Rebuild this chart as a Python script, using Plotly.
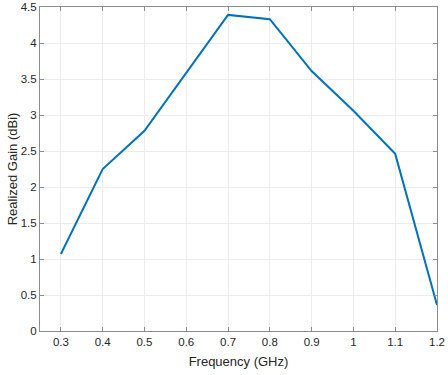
import plotly.graph_objects as go

freq = [0.3, 0.4, 0.5, 0.6, 0.7, 0.8, 0.9, 1.0, 1.1, 1.2]
gain = [1.07, 2.25, 2.78, 3.59, 4.39, 4.33, 3.61, 3.06, 2.46, 0.36]
x_ticks = [0.3, 0.4, 0.5, 0.6, 0.7, 0.8, 0.9, 1.0, 1.1, 1.2]
x_labels = ["0.3", "0.4", "0.5", "0.6", "0.7", "0.8", "0.9", "1", "1.1", "1.2"]
y_ticks = [0, 0.5, 1, 1.5, 2, 2.5, 3, 3.5, 4, 4.5]
y_labels = ["0", "0.5", "1", "1.5", "2", "2.5", "3", "3.5", "4", "4.5"]

fig = go.Figure()
fig.add_trace(go.Scatter(x=freq, y=gain, mode="lines",
                         line=dict(color="#0072BD", width=2)))

axis_common = dict(
    showline=True, linecolor="#8c8c8c", linewidth=1, mirror="ticks",
    ticks="inside", ticklen=4, tickcolor="#8c8c8c", tickwidth=1,
    showgrid=True, gridcolor="#ececec", gridwidth=1, zeroline=False,
    automargin=False,
    tickfont=dict(family="Liberation Sans, Arial", size=11.5, color="#262626"),
)

fig.update_layout(
    width=448, height=375,
    margin=dict(l=40, r=11, t=7, b=44),
    paper_bgcolor="white", plot_bgcolor="white",
    showlegend=False,
    xaxis=dict(range=[0.25, 1.2], tickvals=x_ticks, ticktext=x_labels,
               title=dict(text="Frequency (GHz)", standoff=10,
                          font=dict(family="Liberation Sans, Arial", size=13, color="#262626")),
               **axis_common),
    yaxis=dict(range=[0, 4.5], tickvals=y_ticks, ticktext=y_labels,
               title=dict(text="Realized Gain (dBi)", standoff=0,
                          font=dict(family="Liberation Sans, Arial", size=13, color="#262626")),
               **axis_common),
)

fig.write_html("out.html")
